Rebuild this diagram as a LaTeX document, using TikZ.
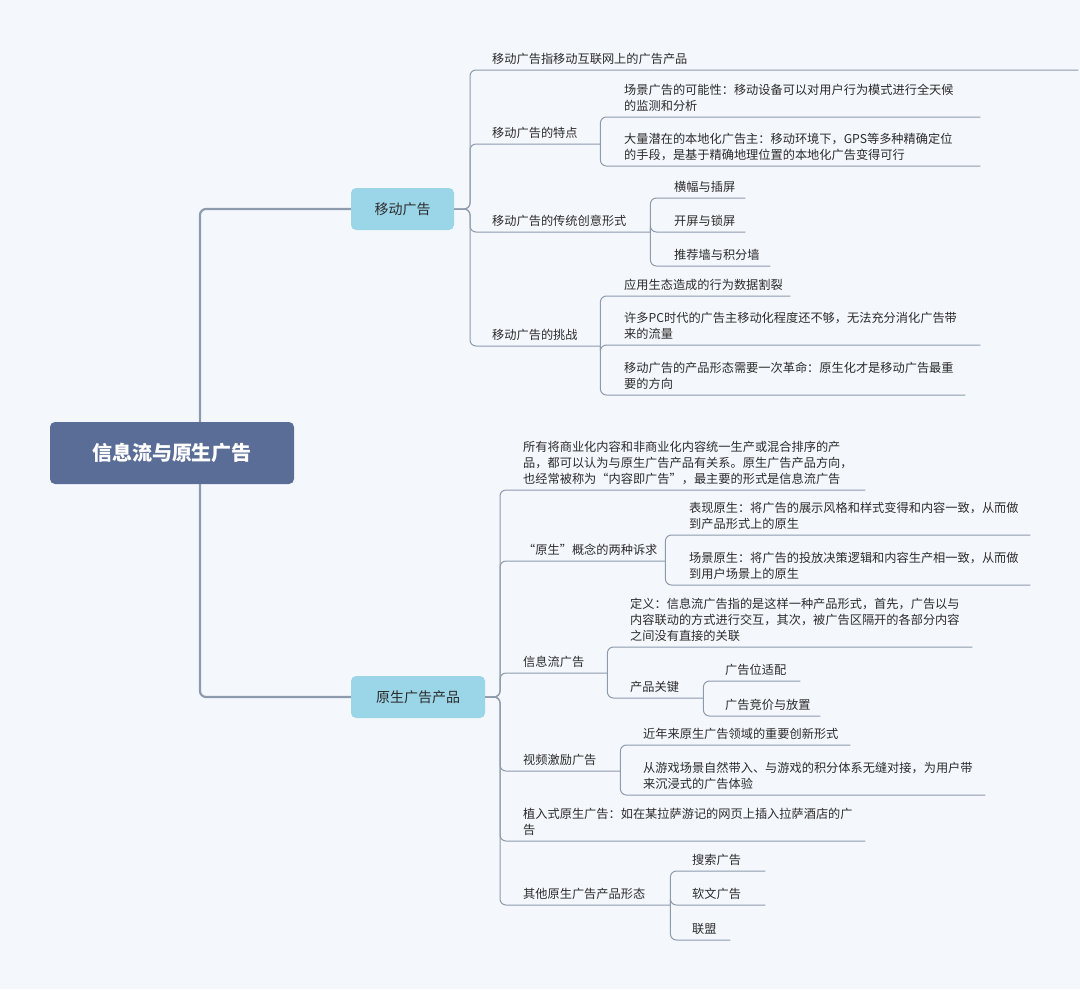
\documentclass[tikz,border=0pt]{standalone}
\usepackage{fontspec}
\setmainfont{Noto Sans CJK SC}
\definecolor{bgc}{HTML}{F4F8FC}
\definecolor{linec}{HTML}{8E9AAE}
\definecolor{rootc}{HTML}{5A6D96}
\definecolor{mainc}{HTML}{9BD5E8}
\definecolor{txtc}{HTML}{2B2B2B}
\tikzset{
  rootbox/.style={fill=rootc, rounded corners=5pt, text=white, font=\fontsize{20}{24}\selectfont\bfseries,
    minimum width=244, minimum height=62},
  mainbox/.style={fill=mainc, rounded corners=5pt, text=txtc, font=\fontsize{14}{17}\selectfont,
    minimum height=42, inner xsep=10},
  leaf/.style={anchor=south west, inner xsep=0, inner ysep=5.5, align=left, text=txtc,
    font=\fontsize{12.2}{16}\selectfont},
  trunk/.style={draw=linec, line width=2.2pt, rounded corners=6pt},
  edge/.style={draw=linec, line width=1pt, rounded corners=6pt}
}
% leaf: name, x, underline y, end of underline, text
\newcommand{\leaf}[5]{\node[leaf, text width=#4-#2] (#1) at (#2,#3) {#5};}
\begin{document}
\begin{tikzpicture}[x=1pt, y=-1pt]
  \fill[bgc] (0,0) rectangle (1080,989);
  \node[rootbox] (root) at (172,453) {信息流与原生广告};
  \node[mainbox, minimum width=103] (mob) at (402.5,209) {移动广告};
  \node[mainbox, minimum width=134] (nat) at (418,697) {原生广告产品};
  \draw[trunk] ([xshift=28]root.north) |- (mob.west);
  \draw[trunk] ([xshift=28]root.south) |- (nat.west);

  % 移动广告
  \leaf{m1}{492}{70}{1078}{移动广告指移动互联网上的广告产品}
  \leaf{m2}{492}{144}{600}{移动广告的特点}
  \leaf{m3}{492}{232}{650}{移动广告的传统创意形式}
  \leaf{m4}{492}{346}{600}{移动广告的挑战}
  \foreach \n in {m1,m2,m3,m4}
    \draw[edge] (mob.east) -- (470,209) |- (\n.south east);

  \leaf{m21}{624}{117}{980}{场景广告的可能性：移动设备可以对用户行为模式进行全天候\\的监测和分析}
  \leaf{m22}{624}{166}{980}{大量潜在的本地化广告主：移动环境下，GPS等多种精确定位\\的手段，是基于精确地理位置的本地化广告变得可行}
  \foreach \n in {m21,m22}
    \draw[edge] (m2.south east) |- (\n.south east);

  \leaf{m31}{674}{198}{745}{横幅与插屏}
  \leaf{m32}{674}{232}{745}{开屏与锁屏}
  \leaf{m33}{674}{266}{770}{推荐墙与积分墙}
  \foreach \n in {m31,m32,m33}
    \draw[edge] (m3.south east) |- (\n.south east);

  \leaf{m41}{624}{296}{790}{应用生态造成的行为数据割裂}
  \leaf{m42}{624}{345}{980}{许多PC时代的广告主移动化程度还不够，无法充分消化广告带\\来的流量}
  \leaf{m43}{624}{395}{965}{移动广告的产品形态需要一次革命：原生化才是移动广告最重\\要的方向}
  \foreach \n in {m41,m42,m43}
    \draw[edge] (m4.south east) |- (\n.south east);

  % 原生广告产品
  \leaf{n1}{523}{490}{865}{所有将商业化内容和非商业化内容统一生产或混合排序的产\\品，都可以认为与原生广告产品有关系。原生广告产品方向，\\也经常被称为“内容即广告”，最主要的形式是信息流广告}
  \leaf{n2}{523}{561}{665}{“原生”概念的两种诉求}
  \leaf{n3}{523}{673}{607}{信息流广告}
  \leaf{n4}{523}{771}{620}{视频激励广告}
  \leaf{n5}{523}{841}{865}{植入式原生广告：如在某拉萨游记的网页上插入拉萨酒店的广\\告}
  \leaf{n6}{523}{905}{670}{其他原生广告产品形态}
  \foreach \n in {n1,n2,n3,n4,n5,n6}
    \draw[edge] (nat.east) -- (500,697) |- (\n.south east);

  \leaf{n21}{689}{535}{1030}{表现原生：将广告的展示风格和样式变得和内容一致，从而做\\到产品形式上的原生}
  \leaf{n22}{689}{585}{1030}{场景原生：将广告的投放决策逻辑和内容生产相一致，从而做\\到用户场景上的原生}
  \foreach \n in {n21,n22}
    \draw[edge] (n2.south east) |- (\n.south east);

  \leaf{n31}{630}{647}{972}{定义：信息流广告指的是这样一种产品形式，首先，广告以与\\内容联动的方式进行交互，其次，被广告区隔开的各部分内容\\之间没有直接的关联}
  \leaf{n32}{630}{698}{703}{产品关键}
  \foreach \n in {n31,n32}
    \draw[edge] (n3.south east) |- (\n.south east);
  \leaf{n321}{725}{681}{800}{广告位适配}
  \leaf{n322}{725}{716}{820}{广告竞价与放置}
  \foreach \n in {n321,n322}
    \draw[edge] (n32.south east) |- (\n.south east);

  \leaf{n41}{643}{745}{850}{近年来原生广告领域的重要创新形式}
  \leaf{n42}{643}{795}{985}{从游戏场景自然带入、与游戏的积分体系无缝对接，为用户带\\来沉浸式的广告体验}
  \foreach \n in {n41,n42}
    \draw[edge] (n4.south east) |- (\n.south east);

  \leaf{n61}{692}{871}{765}{搜索广告}
  \leaf{n62}{692}{905}{765}{软文广告}
  \leaf{n63}{692}{940}{730}{联盟}
  \foreach \n in {n61,n62,n63}
    \draw[edge] (n6.south east) |- (\n.south east);
\end{tikzpicture}
\end{document}
